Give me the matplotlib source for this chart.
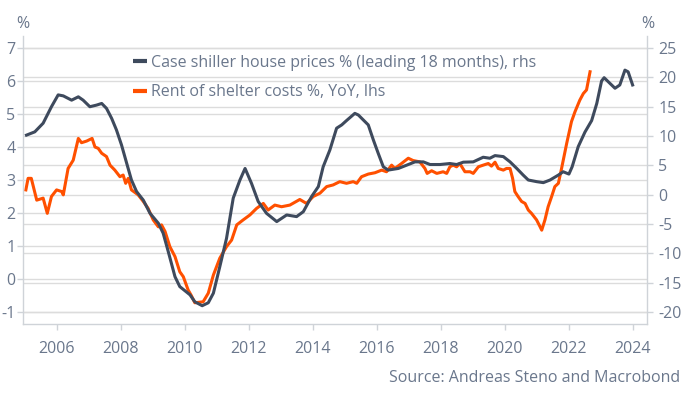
import matplotlib
matplotlib.use("Agg")
import matplotlib.pyplot as plt
import numpy as np

plt.rcParams['font.family'] = ['Open Sans', 'DejaVu Sans']
plt.rcParams['axes.unicode_minus'] = False

# ---- data ----
# Case Shiller house prices % (leading 18 months), right axis
cs_x = [2005.05, 2005.31, 2005.57, 2005.83, 2006.04, 2006.2, 2006.46, 2006.67, 2006.82,
        2007.03, 2007.24, 2007.4, 2007.55, 2007.71, 2007.86, 2008.02, 2008.18, 2008.33,
        2008.49, 2008.7, 2008.91, 2009.17, 2009.32, 2009.48, 2009.69, 2009.84, 2010.16,
        2010.31, 2010.54, 2010.73, 2010.89, 2011.09, 2011.3, 2011.51, 2011.72, 2011.88,
        2012.08, 2012.29, 2012.55, 2012.87, 2013.18, 2013.49, 2013.7, 2013.96, 2014.17,
        2014.32, 2014.53, 2014.74, 2014.9, 2015.05, 2015.31, 2015.42, 2015.73, 2015.89,
        2016.04, 2016.2, 2016.35, 2016.67, 2016.93, 2017.19, 2017.45, 2017.66, 2017.97,
        2018.28, 2018.49, 2018.7, 2019.01, 2019.32, 2019.53, 2019.69, 2019.95, 2020.16,
        2020.37, 2020.57, 2020.73, 2020.99, 2021.2, 2021.41, 2021.67, 2021.82, 2022.0,
        2022.1, 2022.29, 2022.5, 2022.71, 2022.87, 2023.02, 2023.1, 2023.28, 2023.44,
        2023.59, 2023.75, 2023.85, 2023.99]
cs_y = [10.15, 10.71, 12.18, 14.99, 17.01, 16.84, 16.11, 16.68, 16.11,
        14.99, 15.27, 15.55, 14.71, 13.02, 11.05, 8.46, 5.37, 2.5,
        0.53, -0.93, -3.18, -4.87, -6.56, -9.71, -13.98, -15.67, -17.08,
        -18.26, -18.93, -18.43, -16.79, -12.29, -7.46, -0.59, 2.5, 4.47,
        1.94, -1.16, -3.18, -4.59, -3.46, -3.74, -2.9, -0.31, 1.38,
        4.75, 7.62, 11.33, 11.89, 12.63, 13.86, 13.58, 11.89, 9.31,
        7.06, 4.75, 4.19, 4.47, 5.03, 5.59, 5.59, 5.14, 5.14,
        5.31, 5.14, 5.54, 5.59, 6.38, 6.21, 6.66, 6.49, 5.59,
        4.47, 3.34, 2.5, 2.22, 2.05, 2.5, 3.34, 3.91, 3.51,
        4.75, 8.18, 10.66, 12.63, 15.55, 19.38, 19.94, 18.98, 18.14,
        18.7, 21.23, 20.94, 18.7]

# Rent of shelter costs %, YoY, left axis
rent_x = [2005.03, 2005.1, 2005.2, 2005.37, 2005.57, 2005.7, 2005.83, 2005.99, 2006.15,
          2006.2, 2006.35, 2006.51, 2006.67, 2006.77, 2006.93, 2007.1, 2007.19, 2007.29,
          2007.4, 2007.55, 2007.66, 2007.81, 2007.97, 2008.07, 2008.15, 2008.23, 2008.33,
          2008.54, 2008.7, 2008.85, 2009.01, 2009.17, 2009.27, 2009.38, 2009.53, 2009.69,
          2009.84, 2009.95, 2010.1, 2010.2, 2010.31, 2010.57, 2010.73, 2010.89, 2011.09,
          2011.3, 2011.46, 2011.62, 2011.82, 2012.03, 2012.24, 2012.45, 2012.6, 2012.81,
          2013.02, 2013.28, 2013.59, 2013.8, 2014.01, 2014.22, 2014.43, 2014.63, 2014.84,
          2015.05, 2015.26, 2015.37, 2015.52, 2015.73, 2015.94, 2016.15, 2016.3, 2016.46,
          2016.56, 2016.77, 2016.98, 2017.13, 2017.34, 2017.5, 2017.57, 2017.71, 2017.87,
          2018.07, 2018.18, 2018.28, 2018.38, 2018.49, 2018.59, 2018.75, 2018.91, 2019.01,
          2019.17, 2019.32, 2019.48, 2019.58, 2019.69, 2019.79, 2019.95, 2020.05, 2020.16,
          2020.24, 2020.31, 2020.41, 2020.52, 2020.63, 2020.73, 2020.83, 2020.99, 2021.1,
          2021.15, 2021.25, 2021.35, 2021.46, 2021.56, 2021.67, 2021.77, 2021.93, 2022.08,
          2022.19, 2022.34, 2022.45, 2022.55, 2022.66]
rent_y = [2.70, 3.05, 3.05, 2.39, 2.45, 1.99, 2.50, 2.70, 2.65,
          2.55, 3.35, 3.6, 4.26, 4.13, 4.18, 4.26, 4.0, 3.96,
          3.81, 3.71, 3.45, 3.30, 3.10, 3.15, 2.90, 3.05, 2.70,
          2.55, 2.35, 2.14, 1.79, 1.58, 1.64, 1.44, 0.98, 0.68,
          0.22, 0.07, -0.33, -0.5, -0.72, -0.69, -0.43, 0.12, 0.63,
          0.98, 1.18, 1.64, 1.79, 1.94, 2.14, 2.29, 2.09, 2.24,
          2.19, 2.24, 2.41, 2.29, 2.5, 2.6, 2.8, 2.85, 2.95,
          2.9, 2.95, 2.9, 3.1, 3.18, 3.22, 3.3, 3.25, 3.45,
          3.35, 3.5, 3.66, 3.59, 3.55, 3.35, 3.2, 3.28, 3.2,
          3.25, 3.2, 3.4, 3.45, 3.4, 3.5, 3.25, 3.25, 3.2,
          3.4, 3.45, 3.5, 3.42, 3.54, 3.35, 3.3, 3.35, 3.35,
          3.05, 2.65, 2.5, 2.35, 2.29, 2.09, 1.99, 1.79, 1.58,
          1.48, 1.79, 2.19, 2.5, 2.8, 2.9, 3.35, 4.11, 4.77,
          5.07, 5.42, 5.62, 5.73, 6.28]

left_ticks = [-1, 0, 1, 2, 3, 4, 5, 6, 7]
right_ticks = [-20, -15, -10, -5, 0, 5, 10, 15, 20, 25]
year_ticks = [2006, 2008, 2010, 2012, 2014, 2016, 2018, 2020, 2022, 2024]

label_cs = "Case shiller house prices % (leading 18 months), rhs"
label_rent = "Rent of shelter costs %, YoY, lhs"
source = "Source: Andreas Steno and Macrobond"

# ---- style ----
DARK = "#3e4a5d"
ORANGE = "#ff5000"
GRID = "#dcdcdc"
SPINE = "#cfd3d8"
TXT = "#6a778c"
FS = 11.5

fig = plt.figure(figsize=(6.94, 3.95), dpi=100)
pos = [0.0331, 0.1797, 0.8992, 0.7292]

axg = fig.add_axes(pos, zorder=0)
ax1 = fig.add_axes(pos, zorder=1)
ax2 = fig.add_axes(pos, zorder=2, sharex=ax1)
for a in (ax1, ax2):
    a.patch.set_visible(False)

xlim = (2004.94, 2024.44)
ylim_l = (-1.364, 7.364)
ylim_r = (-22.05, 27.05)

ax1.plot(rent_x, rent_y, color=ORANGE, lw=2.2, label=label_rent, solid_joinstyle='round')
ax2.plot(cs_x, cs_y, color=DARK, lw=2.2, label=label_cs, solid_joinstyle='round')

ax1.set_xlim(*xlim)
ax1.set_ylim(*ylim_l)
ax2.set_ylim(*ylim_r)
axg.set_xlim(*xlim)
axg.set_ylim(*ylim_r)

# grids
axg.set_yticks(right_ticks)
axg.grid(axis='y', color=GRID, lw=1.0)
axg.tick_params(left=False, bottom=False, labelleft=False, labelbottom=False)
for s in axg.spines.values():
    s.set_visible(False)
axg.set_xticks([])

ax1.set_yticks(left_ticks)
ax1.grid(axis='y', color=GRID, lw=1.0, zorder=0)
ax1.set_axisbelow(True)

ax1.set_xticks(year_ticks)
ax1.set_xticklabels([str(y) for y in year_ticks])
ax2.set_yticks(right_ticks)

ax1.tick_params(axis='x', direction='out', length=4, width=1, color=SPINE,
                labelcolor=TXT, labelsize=FS, pad=8)
ax1.tick_params(axis='y', direction='out', length=4, width=1, color=SPINE,
                labelcolor=TXT, labelsize=FS, pad=1.5)
ax2.tick_params(axis='y', direction='out', length=4, width=1, color=SPINE,
                labelcolor=TXT, labelsize=FS, pad=4, left=False, labelleft=False,
                right=True, labelright=True)
ax2.tick_params(axis='x', bottom=False, labelbottom=False)

for a in (ax1, ax2):
    a.spines['top'].set_visible(False)
    for k in ('left', 'right', 'bottom'):
        a.spines[k].set_color(SPINE)
        a.spines[k].set_linewidth(1.0)
ax1.spines['right'].set_visible(False)
ax2.spines['left'].set_visible(False)
ax2.spines['bottom'].set_visible(False)

# legend
h2, l2 = ax2.get_legend_handles_labels()
h1, l1 = ax1.get_legend_handles_labels()
leg = ax2.legend(h2 + h1, l2 + l1, loc='upper left', bbox_to_anchor=(0.1916, 0.862),
                 bbox_transform=fig.transFigure, frameon=False, fontsize=FS,
                 handlelength=0.85, handletextpad=0.3, labelspacing=0.86,
                 borderaxespad=0, borderpad=0)
for t in leg.get_texts():
    t.set_color(TXT)
for lh in leg.get_lines():
    lh.set_linewidth(3.0)
    lh.set_solid_capstyle('butt')

# % labels and source
fig.text(23 / 694, 1 - 24 / 395, "%", ha='center', va='center', color=TXT, fontsize=FS)
fig.text(648 / 694, 1 - 24 / 395, "%", ha='center', va='center', color=TXT, fontsize=FS)
fig.text(680 / 694, 1 - 378 / 395, source, ha='right', va='center', color=TXT, fontsize=FS)

fig.savefig("out.png", dpi=100)
